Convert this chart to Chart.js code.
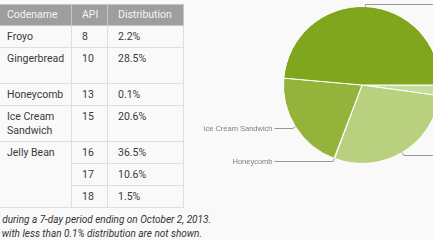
<!DOCTYPE html>
<html>
<head>
<meta charset="utf-8">
<script src="https://cdn.jsdelivr.net/npm/chart.js@4"></script>
<style>
  html, body { margin: 0; padding: 0; }
  body {
    width: 433px; height: 240px; overflow: hidden; position: relative;
    background: #f9f9f9; font-family: Roboto, sans-serif; color: #3a3a3a;
  }
  #dist {
    position: absolute; left: -4px; top: 4px; table-layout: fixed;
    border-collapse: collapse; font-size: 10.5px; line-height: 14px;
  }
  #dist th, #dist td {
    text-align: left; vertical-align: top; padding: 4px 0 3px 10px;
    border: 1px solid #dedede; overflow: hidden;
  }
  #dist th {
    background: #9e9e9e; color: #f4f4f4; font-weight: normal;
    padding: 3px 0 3px 10px; border-color: #c4c4c4;
  }
  #dist tr.tall td { height: 28px; }
  #dist .c1 { width: 64px; }
  #dist .c2 { width: 25px; }
  #dist .c3 { width: 65px; }
  .note {
    position: absolute; white-space: nowrap; text-align: right;
    font-style: italic; font-size: 10px; line-height: 14px; color: #333;
  }
  #pie { position: absolute; left: 190px; top: 0; }
</style>
</head>
<body>
<table id="dist"></table>
<div class="note" style="right: 222px; top: 213px;">Data collected during a 7-day period ending on October 2, 2013.</div>
<div class="note" style="right: 231px; top: 227px;">Any versions with less than 0.1% distribution are not shown.</div>
<canvas id="pie" width="350" height="170"></canvas>
<script>
// таблица
const codenames = ['Froyo', 'Gingerbread', 'Honeycomb', 'Ice Cream Sandwich', 'Jelly Bean', '', ''];
const apiLevels = [8, 10, 13, 15, 16, 17, 18];
const distribution = ['2.2%', '28.5%', '0.1%', '20.6%', '36.5%', '10.6%', '1.5%'];

// круговая диаграмма
const pieLabels = ['Froyo', 'Gingerbread', 'Honeycomb', 'Ice Cream Sandwich', 'Jelly Bean'];
const pieValues = [2.2, 28.5, 0.1, 20.6, 48.6];
const pieColors = ['#c6dc9c', '#b9d17e', '#a6c35c', '#93b33a', '#7fa61c'];

function renderTable() {
    const table = document.getElementById('dist');
    let html = '<tr><th class="c1">Codename</th><th class="c2">API</th><th class="c3">Distribution</th></tr>';
    for (let i = 0; i < apiLevels.length; i++) {
        html += i === 1 ? '<tr class="tall">' : '<tr>';
        if (codenames[i] === 'Jelly Bean') {
            html += `<td class="c1" rowspan="3">${codenames[i]}</td>`;
        } else if (codenames[i] !== '') {
            html += `<td class="c1">${codenames[i]}</td>`;
        }
        html += `<td class="c2">${apiLevels[i]}</td><td class="c3">${distribution[i]}</td></tr>`;
    }
    table.innerHTML = html;
}

// подписи с выносными линиями
const leaderLabels = {
    id: 'leaderLabels',
    afterDatasetsDraw(chart) {
        const ctx = chart.ctx;
        const meta = chart.getDatasetMeta(0);
        ctx.save();
        ctx.strokeStyle = '#9a9a9a';
        ctx.lineWidth = 1;
        ctx.fillStyle = '#808080';
        ctx.font = '7.5px "Liberation Sans", Arial, sans-serif';
        ctx.textBaseline = 'middle';
        meta.data.forEach((arc, i) => {
            const p = arc.getProps(['x', 'y', 'startAngle', 'endAngle', 'outerRadius'], true);
            const mid = (p.startAngle + p.endAngle) / 2;
            const cx = Math.cos(mid), sy = Math.sin(mid);
            const x0 = p.x + p.outerRadius * cx, y0 = p.y + p.outerRadius * sy;
            const x1 = p.x + (p.outerRadius + 3) * cx, y1 = Math.round(p.y + (p.outerRadius + 3) * sy) + 0.5;
            const left = cx < 0;
            const x2 = left ? p.x - p.outerRadius - 9 : p.x + p.outerRadius + 9;
            ctx.beginPath();
            ctx.moveTo(x0, y0);
            ctx.lineTo(x1, y1);
            ctx.lineTo(x2, y1);
            ctx.stroke();
            ctx.textAlign = left ? 'right' : 'left';
            ctx.fillText(chart.data.labels[i], left ? x2 - 2 : x2 + 2, y1);
        });
        ctx.restore();
    }
};

function renderPie() {
    const ctx = document.getElementById('pie').getContext('2d');
    new Chart(ctx, {
        type: 'pie',
        data: {
            labels: pieLabels,
            datasets: [{
                data: pieValues,
                backgroundColor: pieColors,
                borderColor: '#ffffff',
                borderWidth: 1
            }]
        },
        options: {
            responsive: false,
            animation: false,
            devicePixelRatio: 1,
            rotation: 90,
            layout: { padding: { left: 93, right: 99, top: 6, bottom: 6 } },
            plugins: { legend: { display: false }, tooltip: { enabled: false } }
        },
        plugins: [leaderLabels]
    });
}

renderTable();
renderPie();
</script>
</body>
</html>
